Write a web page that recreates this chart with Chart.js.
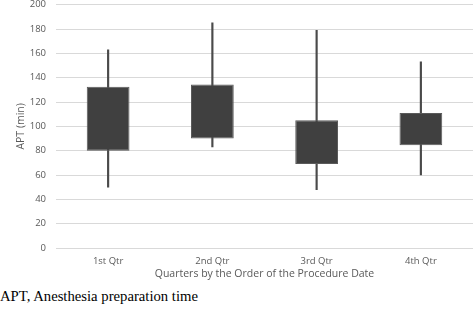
<!DOCTYPE html>
<html><head><meta charset="utf-8">
<script src="https://cdn.jsdelivr.net/npm/chart.js@4/dist/chart.umd.min.js"></script>
<style>
html,body{margin:0;padding:0;background:#fff;overflow:hidden;}
#wrap{position:relative;width:473px;height:313px;overflow:hidden;}
#box{position:absolute;left:0;top:-11px;width:473px;height:291px;}
#cap{position:absolute;left:0px;top:288px;font-family:"Liberation Serif","Times New Roman",serif;font-size:14.7px;color:#000;white-space:nowrap;}
</style></head>
<body><div id="wrap"><div id="box"><canvas id="c"></canvas></div><div id="cap">APT, Anesthesia preparation time</div></div>
<script>
const categories = ["1st Qtr","2nd Qtr","3rd Qtr","4th Qtr"];
const minVals = [50, 83, 48, 60];
const q1Vals = [80, 90, 69, 84.5];
const q3Vals = [132.5, 134.5, 105, 111];
const maxVals = [163, 185, 179, 153];
const yTicks = [0,20,40,60,80,100,120,140,160,180,200];

const boxes = categories.map((c,i)=>[q1Vals[i], q3Vals[i]]);
const whiskers = categories.map((c,i)=>[minVals[i], maxVals[i]]);

new Chart(document.getElementById('c'), {
  type: 'bar',
  data: {
    labels: categories,
    datasets: [
      {data: boxes, backgroundColor:'#404040', borderColor:'#5a5a5a', borderWidth:1, borderSkipped:false, grouped:false, categoryPercentage:1, barPercentage:0.41},
      {data: whiskers, backgroundColor:'#4a4a4a', borderWidth:0, grouped:false, barThickness:1.5}
    ]
  },
  options: {
    responsive:true, maintainAspectRatio:false, animation:false,
    layout:{padding:{top:0,right:0,left:15,bottom:0}},
    plugins:{legend:{display:false}, tooltip:{enabled:false}},
    scales:{
      x:{grid:{display:false}, border:{display:false},
         ticks:{color:'#595959', font:{family:'Open Sans', size:9.5}, padding:0},
         title:{display:true, text:'Quarters by the Order of the Procedure Date', color:'#595959', font:{family:'Open Sans', size:10.5}, padding:{top:0,bottom:0}}},
      y:{min:0, max:200, afterBuildTicks:(ax)=>{ax.ticks = yTicks.map(v=>({value:v}));},
         afterFit:(ax)=>{ax.width = 41;},
         grid:{color:'#d9d9d9', lineWidth:1, drawTicks:false}, border:{display:false},
         ticks:{color:'#595959', font:{family:'Open Sans', size:9.5}, padding:10},
         title:{display:true, text:'APT (min)', color:'#595959', font:{family:'Open Sans', size:10.5}, padding:{top:0,bottom:2}}}
    }
  }
});
</script></body></html>
